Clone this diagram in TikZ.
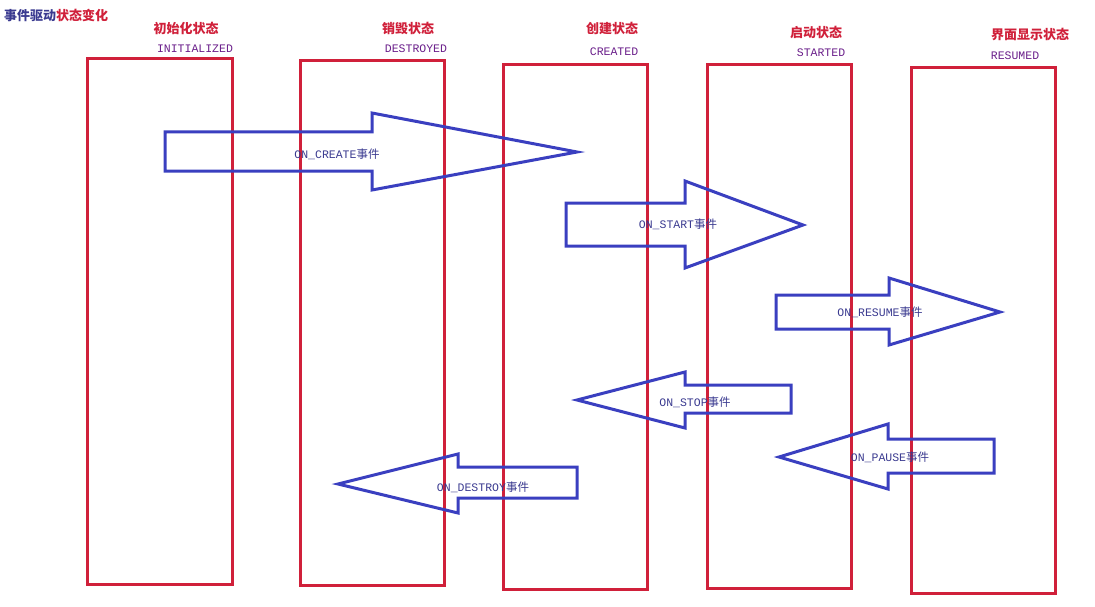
\documentclass[tikz,border=0pt]{standalone}
\usepackage{fontspec}
\setmonofont{Liberation Mono}
\newfontfamily\cjk{Noto Sans CJK SC}
\definecolor{rd}{HTML}{D0203A}
\definecolor{pu}{HTML}{6A1E8A}
\definecolor{bl}{HTML}{3A3FC0}
\definecolor{tb}{HTML}{3A3A90}
\tikzset{
 st/.style={draw=rd,line width=3pt},
 arr/.style={draw=bl,line width=3pt,line join=miter},
 cn/.style={text=rd,font=\cjk\fontsize{13}{15}\selectfont\bfseries},
 en/.style={text=pu,font=\ttfamily\fontsize{11.5}{13}\selectfont},
 lb/.style={text=tb,font=\ttfamily\fontsize{11.5}{13}\selectfont},
}
\begin{document}
\begin{tikzpicture}[x=1pt,y=-1pt]
\useasboundingbox (0,0) rectangle (1095,607);
\fill[white] (0,0) rectangle (1095,607);
\node[anchor=west,inner sep=0pt,font=\cjk\fontsize{13}{15}\selectfont\bfseries] (title) at (4,15) {\textcolor{tb}{事件驱动}\textcolor{rd}{状态变化}};
% states
\draw[st] (87,59) rectangle (232,584) coordinate (r1);
\draw[st] (300,61) rectangle (444,585) coordinate (r2);
\draw[st] (503,65) rectangle (647,589) coordinate (r3);
\draw[st] (707,65) rectangle (851,588) coordinate (r4);
\draw[st] (911,68) rectangle (1055,593) coordinate (r5);
\node[cn] (c1) at (186,28) {初始化状态};
\node[en] (e1) at (195,49) {INITIALIZED};
\node[cn] (c2) at (408,28) {销毁状态};
\node[en] (e2) at (416,49) {DESTROYED};
\node[cn] (c3) at (612,28) {创建状态};
\node[en] (e3) at (614,52) {CREATED};
\node[cn] (c4) at (816,32) {启动状态};
\node[en] (e4) at (821,53) {STARTED};
\node[cn] (c5) at (1030,35) {界面显示状态};
\node[en] (e5) at (1015,56) {RESUMED};
% right arrows
\draw[arr] (165,132) -- (372,132) -- (372,113) -- (577,152) -- (372,190) -- (372,171) -- (165,171) -- cycle;
\node[lb] (a1) at (337,154) {ON\_CREATE{\cjk 事件}};
\draw[arr] (566,203) -- (685,203) -- (685,181) -- (803,225) -- (685,268) -- (685,246) -- (566,246) -- cycle;
\node[lb] (a2) at (678,224) {ON\_START{\cjk 事件}};
\draw[arr] (776,295) -- (889,295) -- (889,278) -- (1000,312) -- (889,345) -- (889,329) -- (776,329) -- cycle;
\node[lb] (a3) at (880,312) {ON\_RESUME{\cjk 事件}};
% left arrows
\draw[arr] (791,385) -- (685,385) -- (685,372) -- (577,400) -- (685,428) -- (685,413) -- (791,413) -- cycle;
\node[lb] (a4) at (695,402) {ON\_STOP{\cjk 事件}};
\draw[arr] (994,439) -- (888,439) -- (888,424) -- (779,457) -- (888,489) -- (888,473) -- (994,473) -- cycle;
\node[lb] (a5) at (890,457) {ON\_PAUSE{\cjk 事件}};
\draw[arr] (577,467) -- (458,467) -- (458,454) -- (338,484) -- (458,513) -- (458,498) -- (577,498) -- cycle;
\node[lb] (a6) at (483,487) {ON\_DESTROY{\cjk 事件}};
\end{tikzpicture}
\end{document}
